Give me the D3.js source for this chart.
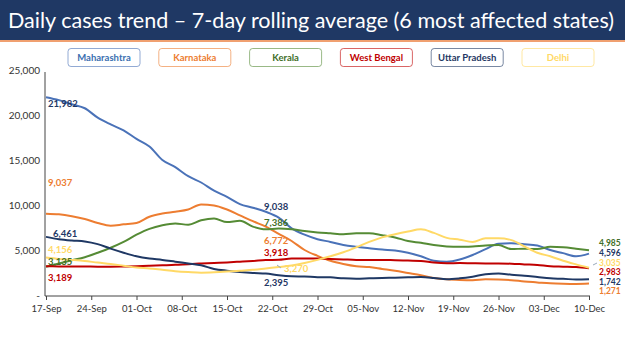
<!DOCTYPE html>
<html><head><meta charset="utf-8">
<script src="https://cdn.jsdelivr.net/npm/d3@7"></script>
<style>body{margin:0;background:#fff}svg{display:block}</style>
</head><body><svg id="c" width="625" height="351"></svg>
<script>
const title = "Daily cases trend \u2013 7-day rolling average (6 most affected states)";
const startDate = "2020-09-17";
const dayOffsets = d3.range(0, 85, 2);
const xTickLabels = ["17-Sep","24-Sep","01-Oct","08-Oct","15-Oct","22-Oct","29-Oct","05-Nov","12-Nov","19-Nov","26-Nov","03-Dec","10-Dec"];
const yTicks = [0,5000,10000,15000,20000,25000];
const seriesNames = ["Maharashtra","Karnataka","Kerala","West Bengal","Uttar Pradesh","Delhi"];
const maharashtra = [21982,21650,21190,20750,19700,18950,18300,17350,16500,15000,14200,13200,12500,11600,10900,10100,9700,9250,8600,7400,6700,6200,5900,5550,5350,5200,5050,4950,4700,4300,3800,3700,3950,4450,5100,5700,5740,5650,5500,5000,4650,4300,4596];
const karnataka = [9037,8960,8750,8450,8000,7700,7850,8000,8700,9050,9250,9500,10050,9950,9500,8850,8200,7600,6800,6000,5000,4350,3800,3450,3200,3100,2900,2700,2450,2200,1900,1750,1680,1650,1740,1720,1650,1500,1400,1300,1250,1230,1271];
const kerala = [3135,3500,3850,4200,4700,5250,5900,6700,7350,7750,7950,7800,8300,8500,8100,8250,7600,7300,7386,7300,7100,6950,6850,6750,6850,6850,6650,6400,6000,5800,5550,5400,5350,5400,5500,5550,5100,5150,5100,5350,5300,5150,4985];
const westBengal = [3189,3180,3170,3160,3150,3150,3170,3200,3250,3300,3350,3430,3500,3560,3620,3700,3780,3880,3918,4050,4050,4050,4000,3950,3900,3880,3880,3870,3820,3780,3600,3520,3550,3520,3500,3500,3480,3400,3330,3200,3150,3100,2983];
const uttarPradesh = [6461,6200,6050,5950,5650,5150,4700,4300,4050,3900,3700,3500,3300,2900,2700,2550,2450,2395,2200,2080,2050,1980,1960,1850,1800,1850,1900,1920,1960,2000,1900,1750,1850,2040,2300,2400,2250,2150,2000,1850,1800,1720,1742];
const delhi = [4156,4000,3900,3780,3600,3450,3250,3050,2950,2800,2650,2550,2480,2520,2600,2700,2800,2950,3100,3270,3550,3900,4300,4750,5300,5900,6400,6750,7050,7300,6900,6350,6150,5900,6300,6300,6100,5400,4700,4300,3800,3400,3035];
const seriesColors = ["#4a72b8","#ed7d31","#558b35","#c00000","#1f3864","#ffd966"];
const labelColors = ["#1f3864","#ed7d31","#426e28","#c00000","#1f3864","#ffd966"];
// annotation values, in series order
const startLabels = [21982,9037,3135,3189,6461,4156];
const midLabels = [9038,6772,7386,3918,2395,3270];
const endLabels = [4596,1271,4985,2983,1742,3035];

const svg = d3.select("#c");
const font = "Lato, 'Open Sans', sans-serif";
const parse = d3.timeParse("%Y-%m-%d");
const d0 = parse(startDate);
const dates = dayOffsets.map(o => d3.timeDay.offset(d0, o));
const allSeries = [maharashtra,karnataka,kerala,westBengal,uttarPradesh,delhi];

// title bar
svg.append("rect").attr("x",0).attr("y",0).attr("width",625).attr("height",40).attr("fill","#1f3864");
svg.append("rect").attr("x",0).attr("y",40).attr("width",625).attr("height",2).attr("fill","#f0a070");
svg.append("text").attr("x",8).attr("y",28).attr("fill","#fff")
  .style("font-family",font).style("font-size","21px")
  .attr("textLength",606).attr("lengthAdjust","spacingAndGlyphs").text(title);

const x = d3.scaleTime().domain([d0, d3.timeDay.offset(d0,84)]).range([46,589]);
const y = d3.scaleLinear().domain([0,25000]).range([295,70]);

// y axis
const ya = svg.append("g").attr("transform","translate(45,0)")
  .call(d3.axisLeft(y).tickValues(yTicks).tickSize(0).tickPadding(5)
    .tickFormat(v => v===0 ? "-" : d3.format(",")(v)));
ya.select(".domain").attr("d","M0,72V296").attr("stroke","#444");
ya.selectAll("text").style("font-family",font).style("font-size","10px").attr("fill","#333");

// x axis
const xTickDates = xTickLabels.map((t,i)=>d3.timeDay.offset(d0, i*7));
const xa = svg.append("g").attr("transform","translate(0,296)")
  .call(d3.axisBottom(x).tickValues(xTickDates).tickSize(4).tickPadding(5)
    .tickFormat((d,i)=>xTickLabels[i]));
xa.select(".domain").attr("d","M45,0H590").attr("stroke","#444");
xa.selectAll(".tick line").attr("stroke","#444");
xa.selectAll("text").style("font-family",font).style("font-size","9.5px").attr("fill","#333");

// lines
const line = d3.line().x((d,i)=>x(dates[i])).y(d=>y(d)).curve(d3.curveMonotoneX);
allSeries.forEach((s,k)=>{
  svg.append("path").datum(s).attr("d",line).attr("fill","none")
    .attr("stroke",seriesColors[k]).attr("stroke-width",2);
});

// legend
const lg = svg.append("g");
seriesNames.forEach((n,i)=>{
  const gx = 68 + i*90.8;
  lg.append("rect").attr("x",gx).attr("y",48.5).attr("width",72).attr("height",18).attr("rx",3)
    .attr("fill","#fff").attr("stroke",seriesColors[i]).attr("stroke-width",1).attr("stroke-opacity",0.6);
  lg.append("text").attr("x",gx+36).attr("y",57.5).attr("dy","0.35em").attr("text-anchor","middle")
    .style("font-family",font).style("font-size","9.5px").style("font-weight","bold")
    .attr("fill", i===0 ? "#3a6fb0" : labelColors[i]).text(n);
});

// data labels
const fmt = d3.format(",");
const lab = (txt,lx,ly,c,fs)=>svg.append("text").attr("x",lx).attr("y",ly).attr("dy","0.35em")
  .style("font-family",font).style("font-size",(fs||9.5)+"px").style("font-weight","bold").attr("fill",c).text(txt);
const startY = [104,183,262,278,234,250];
const startX = [48,48,48,48,53,48];
startLabels.forEach((v,i)=>lab(fmt(v),startX[i],startY[i],labelColors[i]));
const midY = [207,241,223,253,283,269];
const midX = [264,264,264,264,264,284];
midLabels.forEach((v,i)=>lab(fmt(v),midX[i],midY[i],labelColors[i]));
svg.append("line").attr("x1",277).attr("y1",265).attr("x2",281).attr("y2",268).attr("stroke","#9ab").attr("stroke-width",1);
const endY = [253.5,291.5,243,272.5,282,263];
endLabels.forEach((v,i)=>lab(fmt(v),599,endY[i],labelColors[i],8.5));
svg.append("line").attr("x1",593).attr("y1",265).attr("x2",597).attr("y2",263).attr("stroke","#9ab").attr("stroke-width",1);
</script></body></html>
